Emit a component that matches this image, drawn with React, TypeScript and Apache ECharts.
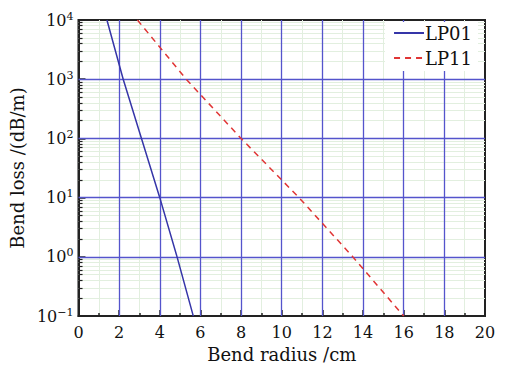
import React, { useEffect, useRef } from "react";
import * as echarts from "echarts";

const lp01Radius = [1.4, 2.2, 3.1, 4.0, 4.85, 5.65];
const lp01Loss = [10000, 1000, 100, 10, 1, 0.1];
const lp11Radius = [2.9, 5.3, 8.0, 10.85, 13.5, 16.0];
const lp11Loss = [10000, 1000, 100, 10, 1, 0.1];
const xTicks = [0, 2, 4, 6, 8, 10, 12, 14, 16, 18, 20];
const yDecades = [-1, 0, 1, 2, 3, 4];
const minorMantissas = [2, 3, 4, 5, 6, 7, 8, 9];

const FONT = "DejaVu Serif";
const MAJOR = "#5454cc";
const MINOR = "#e2efdf";

export default function App() {
  const ref = useRef<HTMLDivElement>(null);
  useEffect(() => {
    if (!ref.current) return;
    const chart = echarts.init(ref.current, null, { renderer: "svg" });
    const yMinor: number[] = [];
    yDecades.slice(0, -1).forEach((d) => {
      minorMantissas.forEach((m) => yMinor.push(+(m * Math.pow(10, d)).toPrecision(3)));
    });
    const yMajor = yDecades.slice(1, -1).map((d) => Math.pow(10, d));
    const xMajor = xTicks.slice(1, -1);
    const option: any = {
      animation: false,
      backgroundColor: "#ffffff",
      grid: {
        left: 75,
        right: 33,
        top: 20,
        bottom: 50,
        show: true,
        borderColor: "#222",
        borderWidth: 2,
        backgroundColor: "transparent",
      },
      legend: {
        data: ["LP01", "LP11"],
        orient: "vertical",
        right: 40,
        top: 22,
        z: 20,
        padding: [2, 6, 4, 8],
        itemWidth: 30,
        itemHeight: 14,
        itemGap: 7,
        itemStyle: { opacity: 0 },
        textStyle: { fontFamily: FONT, fontSize: 18, lineHeight: 18, color: "#111", padding: [0, 0, 0, -4] },
        backgroundColor: "#fff",
      },
      xAxis: {
        type: "value",
        min: xTicks[0],
        max: xTicks[xTicks.length - 1],
        interval: 2,
        name: "Bend radius /cm",
        nameLocation: "middle",
        nameGap: 27,
        nameTextStyle: { fontFamily: FONT, fontSize: 18, color: "#111" },
        axisLine: { lineStyle: { color: "#222", width: 2 } },
        axisTick: { inside: true, length: 6, lineStyle: { color: "#222", width: 1.5 } },
        minorTick: { show: true, splitNumber: 2, length: 3, lineStyle: { color: "#222", width: 1.5 } },
        axisLabel: { fontFamily: FONT, fontSize: 16, color: "#111", margin: 8 },
        splitLine: { show: false },
        minorSplitLine: { show: true, lineStyle: { color: MINOR, width: 1 } },
      },
      yAxis: {
        type: "log",
        logBase: 10,
        min: 0.1,
        max: 10000,
        name: "Bend loss /(dB/m)",
        nameLocation: "middle",
        nameGap: 35,
        nameTextStyle: { fontFamily: FONT, fontSize: 18, color: "#111" },
        axisLine: { lineStyle: { color: "#222", width: 2 } },
        axisTick: { inside: true, length: 7, lineStyle: { color: "#222", width: 1.5 } },
        axisLabel: {
          margin: 5,
          formatter: (v: number) => {
            const e = Math.round(Math.log10(v));
            return "{b|10}{s|" + (e < 0 ? "\u2212" + Math.abs(e) : String(e)) + "}";
          },
          rich: {
            b: { fontFamily: FONT, fontSize: 16, color: "#111" },
            s: { fontFamily: FONT, fontSize: 11, color: "#111", padding: [0, 0, 8, 0] },
          },
        },
        splitLine: { show: false },
      },
      series: [
        {
          name: "minor",
          type: "line",
          data: [],
          z: 1,
          silent: true,
          markLine: {
            silent: true,
            symbol: "none",
            label: { show: false },
            lineStyle: { color: MINOR, width: 1, type: "solid" },
            data: yMinor.map((v) => ({ yAxis: v })),
          },
        },
        {
          name: "major",
          type: "line",
          data: [],
          z: 2,
          silent: true,
          markLine: {
            silent: true,
            symbol: "none",
            label: { show: false },
            lineStyle: { color: MAJOR, width: 1.3, type: "solid" },
            data: [
              ...yMajor.map((v) => ({ yAxis: v })),
              ...xMajor.map((v) => ({ xAxis: v })),
            ],
          },
        },
        {
          name: "minorTicks",
          type: "line",
          data: [],
          z: 3,
          silent: true,
          markLine: {
            silent: true,
            symbol: "none",
            label: { show: false },
            lineStyle: { color: "#222", width: 1.2, type: "solid" },
            data: yMinor.map((v) => [{ coord: [0, v] }, { coord: [0.2, v] }]),
          },
        },
        {
          name: "LP01",
          type: "line",
          data: lp01Radius.map((r, i) => [r, lp01Loss[i]]),
          symbol: "none",
          lineStyle: { color: "#3535a8", width: 1.5 },
          itemStyle: { color: "#3535a8" },
          z: 5,
        },
        {
          name: "LP11",
          type: "line",
          data: lp11Radius.map((r, i) => [r, lp11Loss[i]]),
          symbol: "none",
          lineStyle: { color: "#e03535", width: 1.5, type: [6, 5] },
          itemStyle: { color: "#e03535" },
          z: 5,
        },
      ],
    };
    chart.setOption(option);
    return () => chart.dispose();
  }, []);
  return <div ref={ref} style={{ width: 518, height: 368, position: "absolute", left: 0, top: 0 }} />;
}
